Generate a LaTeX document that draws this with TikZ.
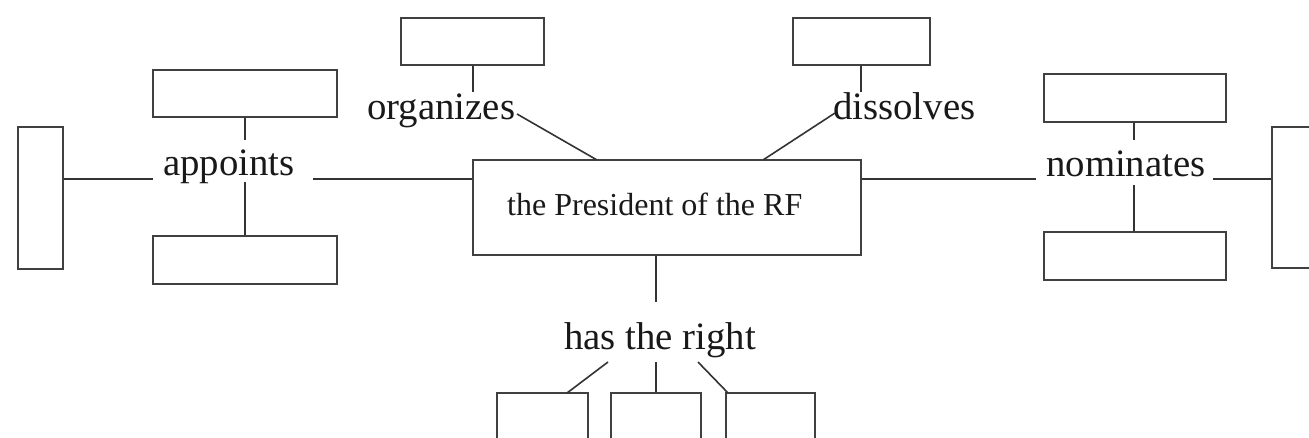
\documentclass[tikz,border=0pt]{standalone}
\usepackage{fontspec}
\setmainfont{Liberation Serif}
\begin{document}
\begin{tikzpicture}[x=1pt,y=-1pt,
  box/.style={draw=black!75,line width=1.8pt,rectangle,inner sep=0pt},
  conn/.style={draw=black!80,line width=1.6pt},
  lab/.style={inner sep=0pt,anchor=base west,font=\fontsize{38.8}{40}\selectfont,text=black!90},
  ptext/.style={inner sep=0pt,anchor=base west,font=\fontsize{32}{34}\selectfont,text=black!90}]
\useasboundingbox (0,0) rectangle (1309,438);
\clip (0,0) rectangle (1309,438);
% boxes
\node[box,minimum width=45pt,minimum height=142pt] (L) at (40.5,198) {};
\node[box,minimum width=184pt,minimum height=47pt] (AT) at (245,93.5) {};
\node[box,minimum width=184pt,minimum height=48pt] (AB) at (245,260) {};
\node[box,minimum width=143pt,minimum height=47pt] (OB) at (472.5,41.5) {};
\node[box,minimum width=137pt,minimum height=47pt] (DB) at (861.5,41.5) {};
\node[box,minimum width=388pt,minimum height=95pt] (P) at (667,207.5) {};
\node[box,minimum width=182pt,minimum height=48pt] (NT) at (1135,98) {};
\node[box,minimum width=182pt,minimum height=48pt] (NB) at (1135,256) {};
\node[box,minimum width=80pt,minimum height=141pt] (R) at (1312,197.5) {};
\node[box,minimum width=91pt,minimum height=80pt] (B1) at (542.5,433) {};
\node[box,minimum width=90pt,minimum height=80pt] (B2) at (656,433) {};
\node[box,minimum width=89pt,minimum height=80pt] (B3) at (770.5,433) {};
% texts
\node[ptext] (pt) at (507,216) {the President of the RF};
\node[lab] (ap) at (163,176) {appoints};
\node[lab] (org) at (367,120) {organizes};
\node[lab] (dis) at (833,120) {dissolves};
\node[lab] (nom) at (1046,177) {nominates};
\node[lab] (htr) at (564,349) {has the right};
% connector ends
\coordinate (aL) at (153,179);
\coordinate (aR) at (313,179);
\coordinate (aU) at (245,140);
\coordinate (aD) at (245,182);
\coordinate (oU) at (473,92);
\coordinate (oE) at (517,114);
\coordinate (oP) at (597,160);
\coordinate (dU) at (861,92);
\coordinate (dW) at (835,113);
\coordinate (dP) at (763,160);
\coordinate (nL) at (1036,179);
\coordinate (nR) at (1213,179);
\coordinate (nU) at (1134,140);
\coordinate (nD) at (1134,185);
\coordinate (hU) at (656,302);
\coordinate (h1) at (608,362);
\coordinate (h2) at (656,362);
\coordinate (h3) at (698,362);
% connectors
\draw[conn] (L.east |- aL) -- (aL);
\draw[conn] (aR) -- (aR -| P.west);
\draw[conn] (AT.south) -- (aU);
\draw[conn] (aD) -- (AB.north);
\draw[conn] (OB.south -| oU) -- (oU);
\draw[conn] (oE) -- (oP);
\draw[conn] (DB.south -| dU) -- (dU);
\draw[conn] (dW) -- (dP);
\draw[conn] (P.east |- nL) -- (nL);
\draw[conn] (nR) -- (nR -| R.west);
\draw[conn] (NT.south -| nU) -- (nU);
\draw[conn] (nD) -- (NB.north -| nD);
\draw[conn] (P.south -| hU) -- (hU);
\draw[conn] (h1) -- (567,393);
\draw[conn] (h2) -- (B2.north);
\draw[conn] (h3) -- (728,393);
\end{tikzpicture}
\end{document}
